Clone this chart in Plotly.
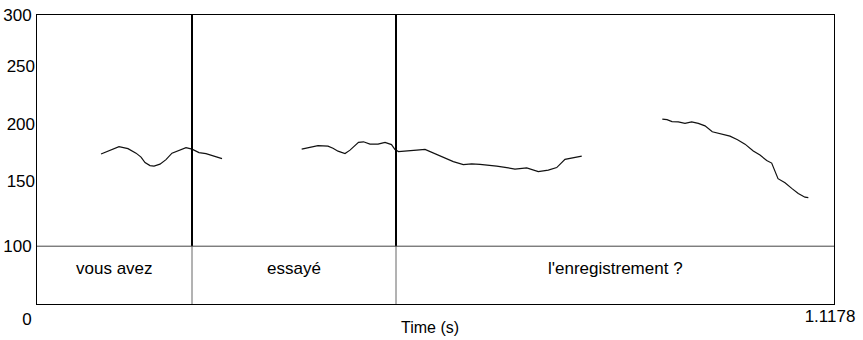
import plotly.graph_objects as go

# ---- data ----
seg1_t = [0.0898, 0.1024, 0.1150, 0.1276, 0.1389, 0.1459, 0.1515, 0.1585, 0.1641, 0.1725,
          0.1809, 0.1893, 0.2006, 0.2090, 0.2174, 0.2272, 0.2370, 0.2482, 0.2595]
seg1_f = [179.7, 183.1, 186.1, 184.4, 180.5, 177.1, 172.3, 169.7, 169.3, 171.0,
          174.9, 180.5, 183.6, 185.3, 184.0, 181.0, 180.1, 177.9, 175.8]

seg2_t = [0.3712, 0.3829, 0.3941, 0.4081, 0.4151, 0.4222, 0.4320, 0.4390, 0.4460, 0.4509,
          0.4579, 0.4670, 0.4783, 0.4881, 0.4972, 0.5021, 0.5070, 0.5208, 0.5325, 0.5442,
          0.5568, 0.5698, 0.5839, 0.5979, 0.6097, 0.6213, 0.6330, 0.6447, 0.6588, 0.6704,
          0.6868, 0.7031, 0.7171, 0.7289, 0.7405, 0.7522, 0.7640]
seg2_f = [184.0, 185.3, 187.0, 186.6, 184.8, 182.2, 180.1, 183.1, 187.4, 189.8,
          190.3, 188.3, 188.3, 189.8, 187.9, 183.6, 181.8, 182.2, 183.1, 183.7,
          180.5, 176.8, 173.2, 170.6, 171.2, 170.7, 170.1, 169.3, 168.0, 166.7,
          167.8, 164.5, 165.8, 168.0, 175.1, 176.8, 177.9]

seg3_t = [0.8770, 0.8836, 0.8906, 0.8994, 0.9088, 0.9182, 0.9275, 0.9369, 0.9471, 0.9579,
          0.9719, 0.9825, 0.9930, 1.0046, 1.0140, 1.0234, 1.0304, 1.0393, 1.0491, 1.0585,
          1.0677, 1.0771, 1.0818]
seg3_f = [210.0, 209.5, 207.8, 207.5, 206.3, 207.6, 206.3, 204.1, 199.0, 197.6,
          195.2, 192.1, 188.3, 182.3, 178.8, 174.2, 171.9, 158.4, 154.8, 150.0,
          145.6, 142.4, 142.0]

t_end = 1.1178
boundaries = [0.2174, 0.5035]
words = ["vous avez", "essayé", "l'enregistrement ?"]
f_top, f_bottom, f_tier = 300, 100, 50
y_major = [100, 300]
y_minor = [150, 200, 250]

FONT = "Liberation Sans, Arial, sans-serif"

fig = go.Figure()
for t, f in [(seg1_t, seg1_f), (seg2_t, seg2_f), (seg3_t, seg3_f)]:
    fig.add_trace(go.Scatter(x=t, y=f, mode="lines",
                             line=dict(color="#111111", width=1.2),
                             showlegend=False, hoverinfo="skip"))
# invisible trace to activate overlay axes
fig.add_trace(go.Scatter(x=[0, t_end], y=[f_tier, f_top], xaxis="x2", yaxis="y2",
                         mode="markers", marker=dict(opacity=0), showlegend=False,
                         hoverinfo="skip"))

# boundaries
for b in boundaries:
    fig.add_shape(type="line", x0=b, x1=b, y0=f_bottom, y1=f_top, xref="x", yref="y",
                  line=dict(color="black", width=2))
    fig.add_shape(type="line", x0=b, x1=b, y0=f_tier, y1=f_bottom, xref="x", yref="y",
                  line=dict(color="#666666", width=1))
# tier separator at 100
fig.add_shape(type="line", x0=0, x1=t_end, y0=f_bottom, y1=f_bottom, xref="x", yref="y",
              line=dict(color="#444444", width=1))

# tier labels
edges = [0] + boundaries + [t_end]
for i, w in enumerate(words):
    fig.add_annotation(x=(edges[i] + edges[i + 1]) / 2, y=81, xref="x", yref="y",
                       text=w, showarrow=False,
                       font=dict(family=FONT, size=17, color="black"))

fig.add_annotation(x=0.493, y=-0.08, xref="paper", yref="paper", text="Time (s)",
                   showarrow=False, yanchor="middle",
                   font=dict(family=FONT, size=16, color="black"))

fig.update_layout(
    width=863, height=340,
    margin=dict(l=37, r=29, t=15, b=36),
    paper_bgcolor="white", plot_bgcolor="white",
    font=dict(family=FONT, size=17, color="black"),
    xaxis=dict(range=[0, t_end], showgrid=False, zeroline=False, automargin=False,
               showline=True, mirror=True, linecolor="black", linewidth=1,
               tickvals=[0], ticktext=["0"], ticks="", ticklabelshift=-10,
               ticklabelstandoff=0),
    xaxis2=dict(range=[0, t_end], overlaying="x", side="bottom", showgrid=False,
                zeroline=False, showline=False, automargin=False,
                tickvals=[t_end], ticktext=["1.1178"], ticks="", ticklabelshift=-4,
                ticklabelstandoff=0),
    yaxis=dict(range=[f_tier, f_top], showgrid=False, zeroline=False, automargin=False,
               showline=True, mirror=True, linecolor="black", linewidth=1,
               tickvals=y_major, ticks="", ticklabelstandoff=1),
    yaxis2=dict(range=[f_tier, f_top], overlaying="y", side="left", showgrid=False,
                zeroline=False, showline=False, automargin=False,
                tickvals=y_minor, ticks="", ticklabelshift=-7, ticklabelstandoff=1),
)

fig.write_html("out.html")
